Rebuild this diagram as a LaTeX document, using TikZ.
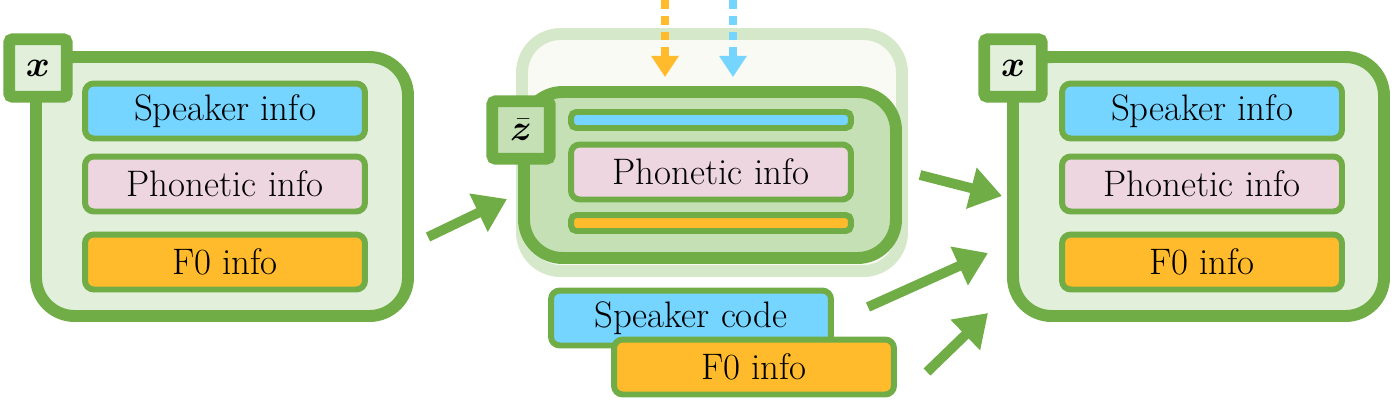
\documentclass[tikz,border=0pt]{standalone}
\usepackage{amsmath}
\usepackage{bm}
\usetikzlibrary{positioning, arrows.meta}
\definecolor{vaegreen}{HTML}{70AD47}
\definecolor{paleback}{HTML}{E2EFDA}
\definecolor{midback}{HTML}{C5E0B4}
\definecolor{ghostline}{HTML}{D5E8C9}
\definecolor{ghostfill}{HTML}{F9FAF3}
\definecolor{spkblue}{HTML}{75D5FF}
\definecolor{phnpink}{HTML}{EED6E0}
\definecolor{fzorange}{HTML}{FFBB2B}
\begin{document}
\begin{tikzpicture}[x=0.02cm, y=-0.02cm,
    % outer containers
    bigbox/.style={draw=vaegreen, line width=6.8pt, fill=paleback, rounded corners=22pt},
    % little label squares
    tagbox/.style={draw=vaegreen, line width=6.8pt, fill=paleback, rounded corners=2pt,
        minimum size=1.15cm, inner sep=0pt, font=\huge},
    % info boxes
    infobox/.style={draw=vaegreen, line width=3.4pt, rounded corners=5pt,
        minimum width=5.6cm, minimum height=1.1cm, inner sep=0pt,
        font=\fontsize{21}{25}\selectfont},
    thinbar/.style={draw=vaegreen, line width=3.4pt, rounded corners=3pt,
        minimum width=5.6cm, minimum height=0.32cm, inner sep=0pt},
    % arrows
    flow/.style={-{Triangle[length=18pt,width=23pt]}, line width=5.6pt, color=vaegreen},
    hint/.style={-{Triangle[length=12pt,width=15pt]}, line width=4pt, dash pattern=on 5pt off 4pt}
]
\useasboundingbox (0,0) rectangle (1392,414);

% left x
\draw[bigbox] (36,57) rectangle (408,316);
\node[tagbox] (xin) at (38,68) {$\bm{x}$};
\node[infobox, fill=spkblue] (spkin) at (225,111) {Speaker info};
\node[infobox, fill=phnpink] (phnin) at (225,184) {Phonetic info};
\node[infobox, fill=fzorange] (fzin) at (225,262) {F0 info};

% middle z
\draw[draw=ghostline, line width=6.8pt, fill=ghostfill, rounded corners=22pt] (522,34) rectangle (902,271);
\draw[bigbox, fill=midback] (524,92) rectangle (896,258);
\node[tagbox, fill=midback] (zbar) at (521,130) {$\bar{\bm{z}}$};
\node[thinbar, fill=spkblue] (spkbar) at (711,120) {};
\node[infobox, fill=phnpink] (phnz) at (711,172) {Phonetic info};
\node[thinbar, fill=fzorange] (fzbar) at (711,223) {};
\coordinate (ohint) at (665,0);
\coordinate (bhint) at (733,0);
\draw[hint, fzorange] (ohint) -- (665,77);
\draw[hint, spkblue] (bhint) -- (733,77);

\node[infobox, fill=spkblue] (spkcode) at (691,318) {Speaker code};
\node[infobox, fill=fzorange] (fzcode) at (754,367) {F0 info};

% right x
\draw[bigbox] (1013,57) rectangle (1384,316);
\node[tagbox] (xout) at (1013,68) {$\bm{x}$};
\node[infobox, fill=spkblue] (spkout) at (1202,111) {Speaker info};
\node[infobox, fill=phnpink] (phnout) at (1202,184) {Phonetic info};
\node[infobox, fill=fzorange] (fzout) at (1202,262) {F0 info};

% arrows
\coordinate (a1s) at (428,237); \coordinate (a1e) at (507,199);
\coordinate (a2s) at (920,175); \coordinate (a2e) at (1002,196);
\coordinate (a3s) at (868,307); \coordinate (a3e) at (988,253);
\coordinate (a4s) at (927,372); \coordinate (a4e) at (988,313);
\draw[flow] (a1s) -- (a1e);
\draw[flow] (a2s) -- (a2e);
\draw[flow] (a3s) -- (a3e);
\draw[flow] (a4s) -- (a4e);
\end{tikzpicture}
\end{document}
